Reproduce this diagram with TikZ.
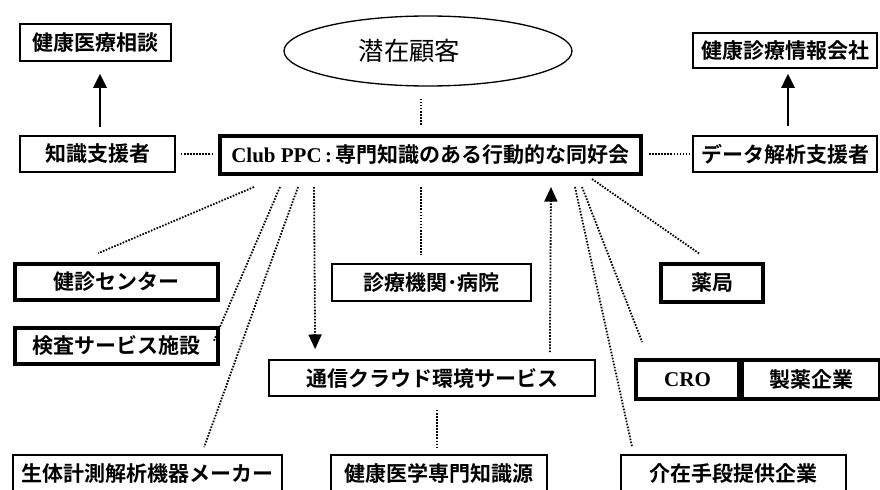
\documentclass[tikz,border=0pt]{standalone}
\usepackage{fontspec}
\setmainfont{Liberation Serif}
\newfontfamily\jp{Noto Sans CJK JP}[BoldFont={Noto Sans CJK JP Bold}]
\usetikzlibrary{shapes.geometric,arrows.meta,calc}
\begin{document}
\begin{tikzpicture}[x=0.75pt,y=-0.75pt,
  base/.style={draw=black,rectangle,inner sep=0pt,font=\jp\bfseries\fontsize{15.75pt}{18pt}\selectfont},
  thinbox/.style={base,line width=1.3pt},
  thickbox/.style={base,line width=2.7pt},
  dotline/.style={line width=1.35pt,dash pattern=on 1.2pt off 1.1pt},
  solidarr/.style={line width=1.5pt,-{Triangle[width=10pt,length=10.5pt]}},
  dotarr/.style={dotline,-{Triangle[width=9.75pt,length=11pt]}}]
\clip (0,0) rectangle (880,489);
\fill[white] (0,0) rectangle (880,489);
% top row
\node[thinbox,minimum width=113.25pt,minimum height=27.75pt] (hc) at (95.5,42.5) {健康医療相談};
\node[thinbox,minimum width=116.25pt,minimum height=27pt] (ks) at (97.5,154) {知識支援者};
\node[draw=black,ellipse,line width=1pt,inner sep=0pt,minimum width=216pt,minimum height=52.5pt,
  font=\jp\fontsize{19pt}{22pt}\selectfont] (ell) at (428,51) {潜在顧客\hspace*{28pt}};
\node[base,line width=3pt,minimum width=315.75pt,minimum height=28.5pt] (club) at (430.5,155)
  {{\rmfamily\bfseries Club PPC\,:\,}専門知識のある行動的な同好会};
\node[thinbox,minimum width=138pt,minimum height=26.25pt] (hi) at (785,50.5) {健康診療情報会社};
\node[thinbox,minimum width=138pt,minimum height=27pt] (dk) at (785,154) {データ解析支援者};
% middle
\node[thickbox,minimum width=152.25pt,minimum height=27pt] (kc) at (116.5,282) {健診センター};
\node[thickbox,minimum width=152.25pt,minimum height=27pt] (ke) at (116.5,346) {検査サービス施設};
\node[thinbox,minimum width=149.25pt,minimum height=27.75pt] (sr) at (431.5,282.5) {診療機関･病院};
\node[thickbox,minimum width=76.5pt,minimum height=28.5pt] (yk) at (712,283) {薬局};
\node[thinbox,minimum width=244.5pt,minimum height=27pt] (tc) at (432,378) {通信クラウド環境サービス};
\node[thickbox,minimum width=77.25pt,minimum height=29.25pt] (cro) at (687.5,379.5) {\rmfamily\bfseries CRO};
\node[thickbox,anchor=west,minimum width=102.75pt,minimum height=29.25pt] (sy) at (cro.east) {製薬企業};
% bottom
\node[thinbox,minimum width=201.75pt,minimum height=27.75pt] (st) at (147.5,473.5) {生体計測解析機器メーカー};
\node[thinbox,minimum width=162pt,minimum height=27.75pt] (km) at (439,473.5) {健康医学専門知識源};
\node[thinbox,minimum width=168.75pt,minimum height=27.75pt] (kz) at (733.5,473.5) {介在手段提供企業};
% connectors
\draw[solidarr] ($(ks.north)+(2.5,-8)$) -- ($(hc.south)+(4.5,12)$);
\draw[solidarr] ($(dk.north)+(3,-9)$) -- ($(hi.south)+(3,5)$);
\draw[dotline] ($(ks.east)+(5,0)$) -- ($(club.west |- ks.east)+(-5,0)$);
\draw[dotline] ($(club.east |- dk.west)+(6,0)$) -- ($(dk.west)+(-3,0)$);
\draw[dotline] ($(ell.south)+(-7,12)$) -- ($(club.north)+(-9.5,-8)$);
\draw[dotline] ($(club.south west)+(36,11)$) -- ($(kc.north west)+(85,-9)$);
\draw[dotline] ($(club.south west)+(62,11)$) -- ($(ke.north east)+(-6,15)$);
\draw[dotline] ($(club.south west)+(80,11)$) -- ($(st.north west)+(192,-7)$);
\draw[dotarr] ($(club.south west)+(96,11)$) -- ($(tc.north west)+(47,-10)$);
\draw[dotline] ($(club.south)+(-9.5,11)$) -- ($(sr.north)+(-10.5,-8)$);
\draw[dotarr] ($(tc.north east)+(-46,-7)$) -- ($(club.south east)+(-92,11)$);
\draw[dotline] ($(club.south east)+(-68,11)$) -- ($(kz.north west)+(12,-7)$);
\draw[dotline] ($(club.south east)+(-61,11)$) -- ($(cro.north west)+(8,-16)$);
\draw[dotline] ($(club.south east)+(-51,3)$) -- ($(yk.north west)+(41,-8)$);
\draw[dotline] ($(tc.south)+(5,13)$) -- ($(km.north)+(-2,-7)$);
\end{tikzpicture}
\end{document}
